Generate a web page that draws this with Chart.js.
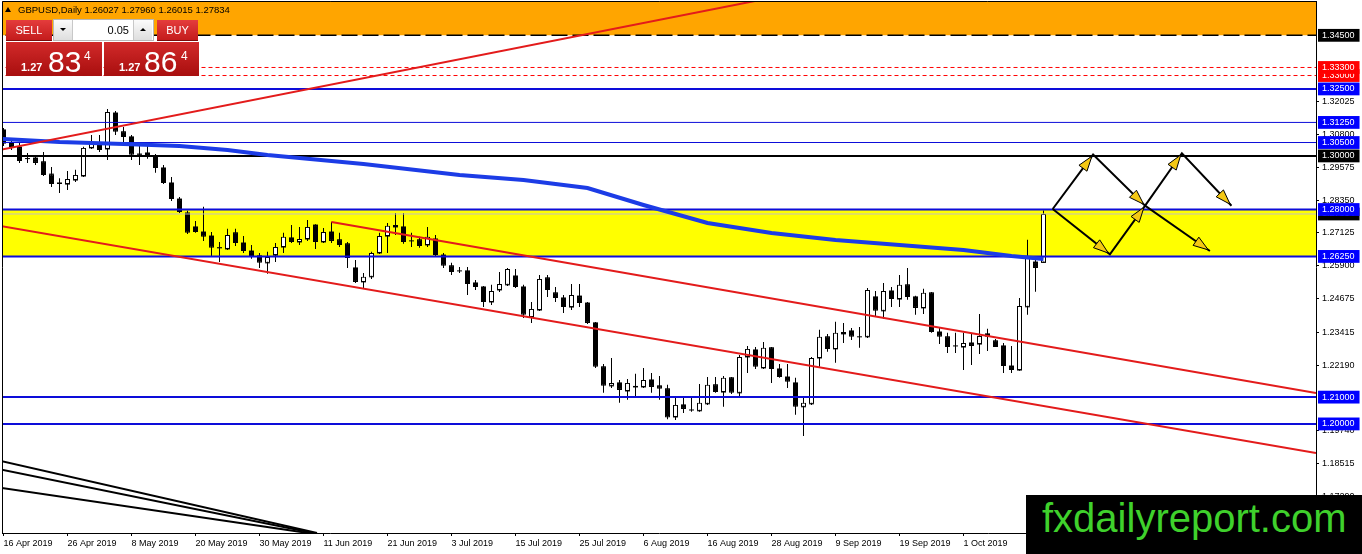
<!DOCTYPE html>
<html>
<head>
<meta charset="utf-8">
<title>GBPUSD, Daily</title>
<script src="https://cdn.jsdelivr.net/npm/chart.js@4.4.1/dist/chart.umd.min.js"></script>
<style>
    html, body { margin: 0; padding: 0; background: #fff; }
    #wrap { position: relative; width: 1362px; height: 554px; overflow: hidden; font-family: "Liberation Sans", Arial, sans-serif; }
    #chart { position: absolute; left: 0; top: 0; }
    #header { position: absolute; left: 18px; top: 4px; font-size: 9.5px; line-height: 11px; color: #000; white-space: nowrap; }
    #headerTri { position: absolute; left: 5px; top: 7px; width: 0; height: 0; border-left: 3px solid transparent; border-right: 3px solid transparent; border-bottom: 5px solid #000; }
    .btn { position: absolute; top: 20px; height: 21px; line-height: 21px; color: #fff; font-size: 11px; text-align: center;
           background: linear-gradient(#e43c3c, #c41c1c); border-bottom: 1px solid #7c0a0a; box-sizing: border-box; }
    #sellBtn { left: 6px; width: 46px; }
    #buyBtn { left: 157px; width: 41px; }
    #lot { position: absolute; left: 53px; top: 19px; width: 101px; height: 22px; background: #fff; border: 1px solid #b8b8b8; box-sizing: border-box; }
    .spin { position: absolute; top: 0; width: 18px; height: 20px; background: linear-gradient(#fbfbfb, #dedede); }
    #spinDown { left: 0; border-right: 1px solid #c8c8c8; }
    #spinUp { left: 79px; border-left: 1px solid #c8c8c8; }
    .tri { position: absolute; left: 6px; top: 8px; width: 0; height: 0; border-left: 3px solid transparent; border-right: 3px solid transparent; }
    .tri.down { border-top: 3px solid #000; }
    .tri.up { border-bottom: 3px solid #000; }
    #lotVal { position: absolute; left: 20px; width: 55px; top: 0; height: 20px; line-height: 20px; font-size: 11px; text-align: right; color: #000; }
    .price { position: absolute; top: 42px; height: 34px; background: linear-gradient(#d22a2a, #a80e0e); color: #fff; }
    #sellPx { left: 6px; width: 96px; }
    #buyPx { left: 104px; width: 95px; }
    .price span { position: absolute; line-height: 1; white-space: nowrap; }
    .pre { font-size: 11px; font-weight: bold; top: 20px; }
    .big { font-size: 30px; top: 5px; }
    .sup { font-size: 12px; top: 8px; }
    #watermark { position: absolute; left: 1026px; top: 495px; width: 336px; height: 59px; background: #000; color: #3fd12c;
                 font-size: 40px; line-height: 40px; padding: 3px 0 0 16px; box-sizing: border-box; white-space: nowrap; }
</style>
</head>
<body>
<div id="wrap">
    <canvas id="chart" width="1362" height="554"></canvas>
    <div id="headerTri"></div>
    <div id="header">GBPUSD,Daily 1.26027 1.27960 1.26015 1.27834</div>
    <div class="btn" id="sellBtn">SELL</div>
    <div id="lot">
        <div class="spin" id="spinDown"><div class="tri down"></div></div>
        <div id="lotVal">0.05</div>
        <div class="spin" id="spinUp"><div class="tri up"></div></div>
    </div>
    <div class="btn" id="buyBtn">BUY</div>
    <div class="price" id="sellPx"><span class="pre" style="left:15px">1.27</span><span class="big" style="left:42px">83</span><span class="sup" style="left:78px">4</span></div>
    <div class="price" id="buyPx"><span class="pre" style="left:15px">1.27</span><span class="big" style="left:40px">86</span><span class="sup" style="left:77px">4</span></div>
    <div id="watermark">fxdailyreport.com</div>
</div>
<script>
// daily bars, 16 Apr 2019 .. 15 Oct 2019 (bar index 0..130)
const opens = [
    1.3097, 1.3048, 1.3033, 1.2990, 1.2992, 1.2978, 1.2932, 1.2899, 1.2895, 1.2910,
    1.2925, 1.3030, 1.3048, 1.3026, 1.3160, 1.3090, 1.3071, 1.3007, 1.3011, 1.3000,
    1.2955, 1.2899, 1.2839, 1.2787, 1.2735, 1.2716, 1.2701, 1.2657, 1.2653, 1.2713,
    1.2675, 1.2645, 1.2627, 1.2601, 1.2630, 1.2660, 1.2694, 1.2679, 1.2690, 1.2742,
    1.2679, 1.2716, 1.2687, 1.2672, 1.2582, 1.2530, 1.2549, 1.2638, 1.2701, 1.2735,
    1.2735, 1.2683, 1.2687, 1.2668, 1.2690, 1.2630, 1.2590, 1.2571, 1.2571, 1.2526,
    1.2511, 1.2455, 1.2500, 1.2519, 1.2552, 1.2511, 1.2399, 1.2425, 1.2545, 1.2489,
    1.2470, 1.2436, 1.2477, 1.2451, 1.2377, 1.2213, 1.2142, 1.2153, 1.2123, 1.2138,
    1.2138, 1.2164, 1.2142, 1.2131, 1.2026, 1.2071, 1.2052, 1.2049, 1.2075, 1.2146,
    1.2119, 1.2172, 1.2116, 1.2250, 1.2276, 1.2209, 1.2284, 1.2205, 1.2175, 1.2153,
    1.2064, 1.2075, 1.2246, 1.2325, 1.2280, 1.2336, 1.2347, 1.2325, 1.2325, 1.2474,
    1.2422, 1.2496, 1.2466, 1.2519, 1.2474, 1.2433, 1.2489, 1.2343, 1.2325, 1.2291,
    1.2287, 1.2302, 1.2298, 1.2336, 1.2310, 1.2291, 1.2216, 1.2201, 1.2437, 1.2604,
    1.26027
];
const highs = [
    1.3104, 1.3067, 1.3048, 1.3011, 1.2999, 1.3015, 1.2959, 1.2917, 1.2944, 1.2948,
    1.3034, 1.3078, 1.3078, 1.3175, 1.3168, 1.3108, 1.3078, 1.3048, 1.3048, 1.3007,
    1.2966, 1.2921, 1.2847, 1.2795, 1.2757, 1.2810, 1.2716, 1.2679, 1.2728, 1.2728,
    1.2701, 1.2668, 1.2638, 1.2642, 1.2675, 1.2713, 1.2742, 1.2735, 1.2761, 1.2745,
    1.2731, 1.2754, 1.2713, 1.2679, 1.2612, 1.2563, 1.2642, 1.2713, 1.2750, 1.2787,
    1.2787, 1.2713, 1.2698, 1.2735, 1.2705, 1.2638, 1.2601, 1.2586, 1.2586, 1.2537,
    1.2515, 1.2519, 1.2567, 1.2582, 1.2578, 1.2519, 1.2455, 1.2556, 1.2556, 1.2511,
    1.2481, 1.2522, 1.2522, 1.2455, 1.2380, 1.2224, 1.2246, 1.2164, 1.2168, 1.2187,
    1.2209, 1.2190, 1.2179, 1.2146, 1.2101, 1.2101, 1.2097, 1.2149, 1.2175, 1.2175,
    1.2179, 1.2175, 1.2257, 1.2291, 1.2287, 1.2306, 1.2287, 1.2224, 1.2224, 1.2172,
    1.2101, 1.2250, 1.2351, 1.2336, 1.2381, 1.2377, 1.2358, 1.2362, 1.2507, 1.2496,
    1.2526, 1.2511, 1.2556, 1.2582, 1.2478, 1.2504, 1.2492, 1.2362, 1.2340, 1.2340,
    1.2340, 1.2336, 1.2410, 1.2355, 1.2317, 1.2302, 1.2291, 1.2470, 1.2687, 1.2623,
    1.27960
];
const lows = [
    1.3037, 1.3022, 1.2974, 1.2974, 1.2966, 1.2925, 1.2884, 1.2862, 1.2873, 1.2903,
    1.2921, 1.3026, 1.3015, 1.2985, 1.3078, 1.3041, 1.2985, 1.2966, 1.2989, 1.2937,
    1.2895, 1.2832, 1.2787, 1.2709, 1.2713, 1.2683, 1.2623, 1.2604, 1.2649, 1.2664,
    1.2638, 1.2616, 1.2582, 1.2560, 1.2604, 1.2638, 1.2675, 1.2668, 1.2683, 1.2653,
    1.2675, 1.2675, 1.2660, 1.2582, 1.2526, 1.2507, 1.2541, 1.2634, 1.2638, 1.2705,
    1.2672, 1.2660, 1.2657, 1.2660, 1.2627, 1.2582, 1.2556, 1.2563, 1.2481, 1.2500,
    1.2436, 1.2444, 1.2492, 1.2515, 1.2507, 1.2395, 1.2377, 1.2421, 1.2474, 1.2455,
    1.2414, 1.2425, 1.2436, 1.2373, 1.2209, 1.2116, 1.2134, 1.2079, 1.2090, 1.2101,
    1.2134, 1.2116, 1.2090, 1.2017, 1.2015, 1.2041, 1.2045, 1.2045, 1.2071, 1.2116,
    1.2064, 1.2112, 1.2104, 1.2190, 1.2205, 1.2205, 1.2153, 1.2172, 1.2134, 1.2034,
    1.1955, 1.2071, 1.2213, 1.2269, 1.2228, 1.2302, 1.2313, 1.2284, 1.2321, 1.2403,
    1.2392, 1.2436, 1.2436, 1.2463, 1.2407, 1.2410, 1.2340, 1.2298, 1.2265, 1.2265,
    1.2201, 1.2220, 1.2261, 1.2272, 1.2287, 1.2190, 1.2190, 1.2198, 1.2407, 1.2493,
    1.26015
];
const closes = [
    1.3045, 1.3033, 1.2981, 1.2992, 1.2974, 1.2929, 1.2895, 1.2895, 1.2914, 1.2929,
    1.3030, 1.3048, 1.3022, 1.3164, 1.3090, 1.3071, 1.3004, 1.3004, 1.2996, 1.2955,
    1.2899, 1.2839, 1.2791, 1.2713, 1.2716, 1.2698, 1.2657, 1.2660, 1.2705, 1.2675,
    1.2645, 1.2623, 1.2601, 1.2623, 1.2660, 1.2698, 1.2679, 1.2690, 1.2735, 1.2679,
    1.2716, 1.2683, 1.2668, 1.2619, 1.2530, 1.2549, 1.2638, 1.2701, 1.2739, 1.2742,
    1.2679, 1.2683, 1.2664, 1.2698, 1.2630, 1.2590, 1.2567, 1.2571, 1.2522, 1.2511,
    1.2455, 1.2496, 1.2522, 1.2578, 1.2511, 1.2407, 1.2429, 1.2541, 1.2500, 1.2470,
    1.2436, 1.2481, 1.2451, 1.2377, 1.2213, 1.2142, 1.2153, 1.2127, 1.2153, 1.2142,
    1.2164, 1.2138, 1.2131, 1.2024, 1.2071, 1.2056, 1.2052, 1.2079, 1.2146, 1.2119,
    1.2172, 1.2116, 1.2250, 1.2280, 1.2213, 1.2284, 1.2205, 1.2175, 1.2157, 1.2064,
    1.2079, 1.2246, 1.2325, 1.2280, 1.2340, 1.2343, 1.2325, 1.2325, 1.2500, 1.2422,
    1.2496, 1.2466, 1.2519, 1.2474, 1.2433, 1.2489, 1.2343, 1.2325, 1.2287, 1.2291,
    1.2302, 1.2291, 1.2328, 1.2325, 1.2287, 1.2216, 1.2201, 1.2440, 1.2627, 1.2582,
    1.27834
];

const xTickIdx = [0, 8, 16, 24, 32, 40, 48, 56, 64, 72, 80, 88, 96, 104, 112, 120, 128];
const xTickLabels = ['16 Apr 2019', '26 Apr 2019', '8 May 2019', '20 May 2019', '30 May 2019', '11 Jun 2019',
    '21 Jun 2019', '3 Jul 2019', '15 Jul 2019', '25 Jul 2019', '6 Aug 2019', '16 Aug 2019', '28 Aug 2019',
    '9 Sep 2019', '19 Sep 2019', '1 Oct 2019', '11 Oct 2019'];
const priceTicks = [1.32025, 1.30800, 1.29575, 1.28350, 1.27125, 1.25900, 1.24675, 1.23415, 1.22190, 1.19740, 1.18515, 1.17290];

const bidPrice = 1.27834;
const resistanceDashed = 1.345;
const redLevels = [1.330, 1.333];
const blueLevelsMajor = [1.325, 1.28, 1.2625, 1.21, 1.20];
const blueLevelsMinor = [1.3125, 1.305];
const blackLevel = 1.30;
const yellowZone = [1.2625, 1.28];

// moving average read at a few bars
const maIdx = [-1, 0, 7, 15, 22, 28, 33, 45, 57, 65, 73, 80, 88, 96, 104, 112, 120, 126, 130];
const maVals = [1.30631, 1.30631, 1.30519, 1.30445, 1.30370, 1.30221, 1.30034, 1.29699, 1.29288, 1.29102,
    1.28803, 1.28169, 1.27497, 1.27124, 1.26863, 1.26676, 1.26490, 1.26266, 1.26154];

// trend lines as [bar index, price] anchor pairs
const risingLine = [[-0.44, 1.30221], [94.56, 1.35818]];
const channelLow = [[-0.44, 1.27385], [164.06, 1.18915]];
const channelHigh = [[41.0, 1.27534], [164.06, 1.21154]];
const fanLines = [
    [[-0.44, 1.18628], [39.19, 1.15930]],
    [[-0.44, 1.18307], [38.69, 1.15930]],
    [[-0.44, 1.17620], [38.06, 1.15930]]
];
const pathUp = [[131.15, 1.28019], [136.2, 1.30050], [142.7, 1.28143], [147.3, 1.30098], [153.5, 1.28143]];
const pathDown = [[131.15, 1.28019], [138.3, 1.26329], [142.7, 1.28143], [150.8, 1.26452]];

const X_MIN = -0.1875;
const X_MAX = X_MIN + 1314 / 8;
const Y_MIN = 1.1593;
const Y_MAX = Y_MIN + 532 / 2680;
const FAR_LEFT = -5;
const FAR_RIGHT = 170;

const BLUE = '#0d0dd9';
const BOX_BLUE = '#0000ff';
const RED = '#e31b1b';

const bars = opens.map((_, i) => i);
const key = v => Number(v).toFixed(5);

const labelStyle = {};
[resistanceDashed, blackLevel].forEach(v => labelStyle[key(v)] = '#000');
redLevels.forEach(v => labelStyle[key(v)] = '#ff0000');
blueLevelsMajor.concat(blueLevelsMinor).forEach(v => labelStyle[key(v)] = BOX_BLUE);
labelStyle[key(bidPrice)] = '#000';

const yTickOrder = priceTicks.concat([bidPrice, resistanceDashed], redLevels,
    [1.325, 1.3125, 1.305, blackLevel, 1.28, 1.2625, 1.21, 1.20]);

function hLine(v, color, width, dash, order) {
    return {
        type: 'line', data: [{ x: FAR_LEFT, y: v }, { x: FAR_RIGHT, y: v }],
        borderColor: color, borderWidth: width, borderDash: dash || [],
        pointRadius: 0, fill: false, order: order, clip: 0
    };
}

function segLine(points, color, width, order) {
    return {
        type: 'line', data: points.map(p => ({ x: p[0], y: p[1] })),
        borderColor: color, borderWidth: width, pointRadius: 0, fill: false, order: order, clip: 0
    };
}

const frame = {
    id: 'frame',
    afterDatasetsDraw(chart) {
        const { ctx, chartArea: a } = chart;
        ctx.save();
        ctx.strokeStyle = '#000';
        ctx.lineWidth = 1;
        ctx.beginPath();
        ctx.moveTo(a.left + 0.5, a.bottom);
        ctx.lineTo(a.left + 0.5, a.top + 0.5);
        ctx.lineTo(a.right, a.top + 0.5);
        ctx.stroke();
        ctx.restore();
    }
};

const arrowHeads = {
    id: 'arrowHeads',
    afterDatasetsDraw(chart) {
        const { ctx, chartArea: a } = chart;
        const xs = chart.scales.x, ys = chart.scales.y;
        ctx.save();
        ctx.beginPath();
        ctx.rect(a.left, a.top, a.right - a.left, a.bottom - a.top);
        ctx.clip();
        [pathUp, pathDown].forEach(path => {
            for (let k = 1; k < path.length; k++) {
                const x0 = xs.getPixelForValue(path[k - 1][0]), y0 = ys.getPixelForValue(path[k - 1][1]);
                const x1 = xs.getPixelForValue(path[k][0]), y1 = ys.getPixelForValue(path[k][1]);
                const ang = Math.atan2(y1 - y0, x1 - x0);
                const c = Math.cos(ang), s = Math.sin(ang);
                const tx = x1 - c * 2, ty = y1 - s * 2;
                const bx = tx - c * 15, by = ty - s * 15;
                ctx.beginPath();
                ctx.moveTo(tx, ty);
                ctx.lineTo(bx + s * 5, by - c * 5);
                ctx.lineTo(bx - s * 5, by + c * 5);
                ctx.closePath();
                ctx.fillStyle = '#f4c814';
                ctx.fill();
                ctx.strokeStyle = '#000';
                ctx.lineWidth = 1;
                ctx.stroke();
            }
        });
        ctx.restore();
    }
};

const datasets = [
    // orange zone above the dashed resistance
    {
        type: 'line', data: [{ x: FAR_LEFT, y: resistanceDashed }, { x: FAR_RIGHT, y: resistanceDashed }],
        borderColor: 'rgba(0,0,0,0)', borderWidth: 0, pointRadius: 0,
        fill: 'end', backgroundColor: '#ffa500', order: 20, clip: 0
    },
    // yellow zone
    {
        type: 'line', data: [{ x: FAR_LEFT, y: yellowZone[1] }, { x: FAR_RIGHT, y: yellowZone[1] }],
        borderColor: 'rgba(0,0,0,0)', borderWidth: 0, pointRadius: 0,
        fill: { value: yellowZone[0] }, backgroundColor: '#ffff00', order: 19, clip: 0
    },
    {
        type: 'bar', label: 'wicks',
        data: bars.map(i => ({ x: i, y: [lows[i], highs[i]] })),
        backgroundColor: '#000', borderWidth: 0, maxBarThickness: 1, grouped: false,
        inflateAmount: 0, order: 10
    },
    {
        type: 'bar', label: 'bodies',
        data: bars.map(i => ({ x: i, y: [opens[i], closes[i]] })),
        backgroundColor: bars.map(i => closes[i] >= opens[i] ? '#fff' : '#000'),
        borderColor: '#000', borderWidth: 1, borderSkipped: false, maxBarThickness: 5, grouped: false,
        inflateAmount: 0, order: 9
    },
    {
        type: 'line', label: 'open marks', showLine: false,
        data: bars.map(i => ({ x: i, y: opens[i] })),
        pointStyle: 'line', pointRadius: 2.5, pointBorderColor: '#000', pointBorderWidth: 1, order: 8
    },
    hLine(bidPrice, '#c0c0c0', 1, null, 7),
    hLine(resistanceDashed, '#000', 1.5, [16, 5], 6),
    ...redLevels.map(v => hLine(v, '#ff0000', 1, [4, 3], 6)),
    ...blueLevelsMajor.map(v => hLine(v, BLUE, 2, null, 6)),
    ...blueLevelsMinor.map(v => hLine(v, BLUE, 1, null, 6)),
    hLine(blackLevel, '#000', 2, null, 6),
    {
        type: 'line', label: 'MA',
        data: maIdx.map((v, k) => ({ x: v, y: maVals[k] })),
        borderColor: '#1c3ce6', borderWidth: 4, pointRadius: 0, fill: false, order: 5, clip: 0
    },
    segLine(risingLine, RED, 2, 4),
    segLine(channelLow, RED, 2, 4),
    segLine(channelHigh, RED, 2, 4),
    ...fanLines.map(l => segLine(l, '#000', 2, 4)),
    segLine(pathUp, '#000', 2, 3),
    segLine(pathDown, '#000', 2, 3)
];

function initializeChart() {
    const ctx = document.getElementById('chart').getContext('2d');
    new Chart(ctx, {
        type: 'bar',
        data: { datasets: datasets },
        plugins: [frame, arrowHeads],
        options: {
            responsive: false,
            devicePixelRatio: 1,
            animation: false,
            events: [],
            layout: { autoPadding: false, padding: { left: 2, top: 1, right: 0, bottom: 0 } },
            plugins: {
                legend: { display: false },
                tooltip: { enabled: false },
                title: { display: false }
            },
            scales: {
                x: {
                    type: 'linear', min: X_MIN, max: X_MAX, offset: false,
                    border: { display: true, color: '#000', width: 1 },
                    grid: { drawOnChartArea: false, drawTicks: true, tickLength: 3, color: '#000', offset: false },
                    ticks: {
                        autoSkip: false, maxRotation: 0, minRotation: 0, align: 'start', padding: 2,
                        color: '#000', font: { family: 'Liberation Sans', size: 9 },
                        callback: (v, i) => xTickLabels[i]
                    },
                    afterBuildTicks: s => { s.ticks = xTickIdx.map(v => ({ value: v })); },
                    afterFit: s => { s.height = 21; s.paddingLeft = 0; s.paddingRight = 0; }
                },
                y: {
                    type: 'linear', position: 'right', min: Y_MIN, max: Y_MAX, beginAtZero: false,
                    border: { display: true, color: '#000', width: 1 },
                    grid: {
                        drawOnChartArea: false, drawTicks: true, tickLength: 3,
                        color: c => (c.tick && labelStyle[key(c.tick.value)]) ? 'rgba(0,0,0,0)' : '#000'
                    },
                    ticks: {
                        autoSkip: false, padding: 3,
                        font: { family: 'Liberation Sans', size: 9 },
                        color: c => (c.tick && labelStyle[key(c.tick.value)]) ? '#fff' : '#000',
                        showLabelBackdrop: c => !!(c.tick && labelStyle[key(c.tick.value)]),
                        backdropColor: c => (c.tick && labelStyle[key(c.tick.value)]) || 'rgba(0,0,0,0)',
                        backdropPadding: { top: 1, bottom: 1, left: 4, right: 5 },
                        callback: v => Number(v).toFixed(5)
                    },
                    afterBuildTicks: s => { s.ticks = yTickOrder.map(v => ({ value: v })); },
                    afterFit: s => { s.width = 46; s.paddingTop = 0; s.paddingBottom = 0; }
                }
            }
        }
    });
}

document.addEventListener('DOMContentLoaded', initializeChart);
</script>
</body>
</html>
